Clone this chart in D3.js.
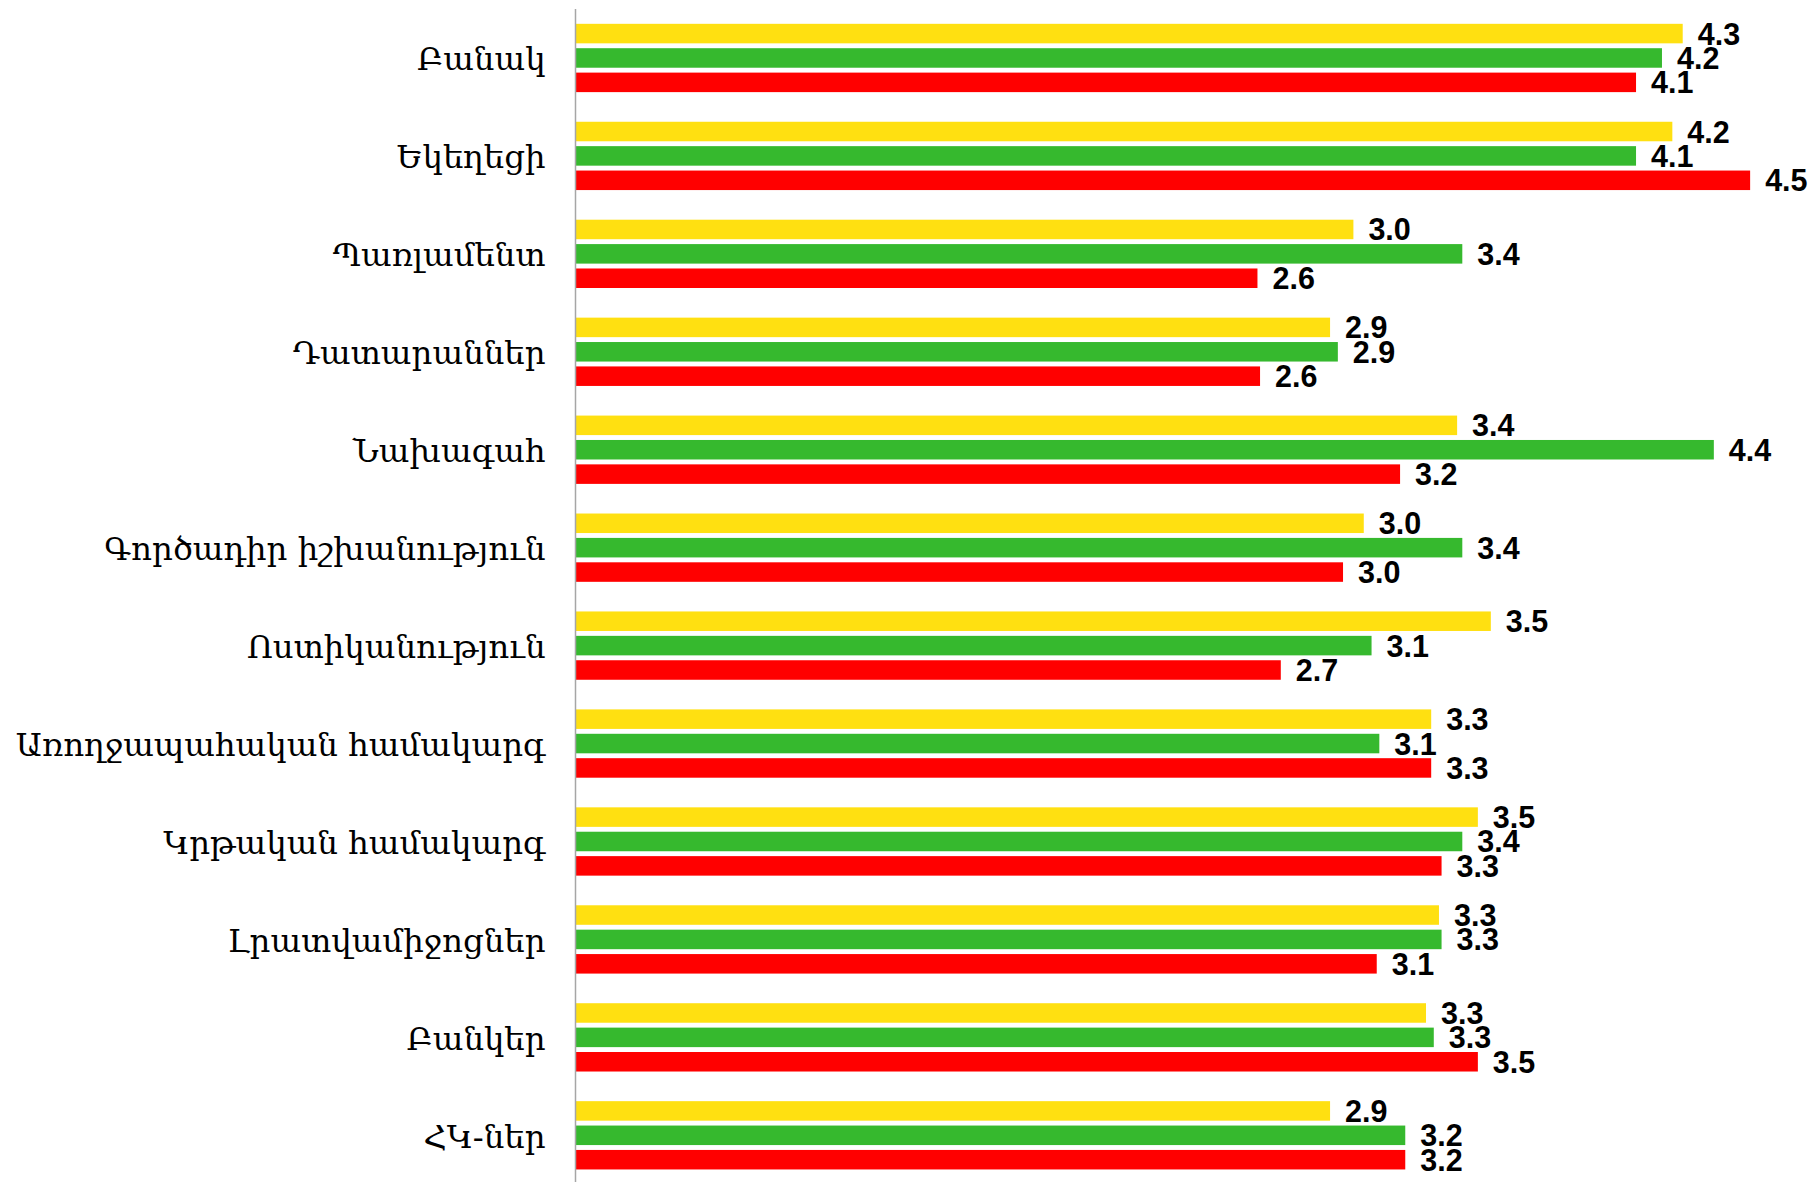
<!DOCTYPE html>
<html>
<head>
<meta charset="utf-8">
<script src="https://cdn.jsdelivr.net/npm/d3@7"></script>
<style>
  html, body { margin: 0; padding: 0; background: #ffffff; }
  svg { display: block; }
</style>
</head>
<body>
<svg id="chart" width="1814" height="1182"></svg>
<script>
// ---- data ----
const categories = [
  "Բանակ",
  "Եկեղեցի",
  "Պառլամենտ",
  "Դատարաններ",
  "Նախագահ",
  "Գործադիր իշխանություն",
  "Ոստիկանություն",
  "Առողջապահական համակարգ",
  "Կրթական համակարգ",
  "Լրատվամիջոցներ",
  "Բանկեր",
  "ՀԿ-ներ"
];
const seriesNames = ["series1", "series2", "series3"];
const seriesColors = ["#FFE011", "#36B92E", "#FF0000"];
const series1 = [4.27, 4.23, 3.00, 2.91, 3.40, 3.04, 3.53, 3.30, 3.48, 3.33, 3.28, 2.91];
const series2 = [4.19, 4.09, 3.42, 2.94, 4.39, 3.42, 3.07, 3.10, 3.42, 3.34, 3.31, 3.20];
const series3 = [4.09, 4.53, 2.63, 2.64, 3.18, 2.96, 2.72, 3.30, 3.34, 3.09, 3.48, 3.20];
const seriesValues = [series1, series2, series3];

// ---- layout ----
const W = 1814, H = 1182;
const axisX = 575.5;
const plotTop = 9, step = 97.94;
const svg = d3.select("#chart");

const rows = categories.map((c, i) => ({
  category: c,
  values: seriesNames.map((s, j) => ({ key: s, color: seriesColors[j], value: seriesValues[j][i] }))
}));

const x = d3.scaleLinear().domain([0, 4.7]).range([axisX, axisX + 4.7 * 259.3]);
const groupPad = 0.3026;
const y0 = d3.scaleBand().domain(categories)
  .range([plotTop, plotTop + categories.length * step])
  .paddingInner(groupPad).paddingOuter(groupPad / 2);
const y1 = d3.scaleBand().domain(seriesNames)
  .range([0, y0.bandwidth()])
  .paddingInner(0.2).paddingOuter(0);

const groups = svg.append("g").selectAll("g")
  .data(rows).join("g")
  .attr("transform", d => `translate(0,${y0(d.category)})`);

groups.selectAll("rect")
  .data(d => d.values).join("rect")
  .attr("x", x(0))
  .attr("y", d => y1(d.key))
  .attr("width", d => x(d.value) - x(0))
  .attr("height", y1.bandwidth())
  .attr("fill", d => d.color);

const fmt = d3.format(".1f");
groups.selectAll("text.val")
  .data(d => d.values).join("text")
  .attr("class", "val")
  .attr("x", d => x(d.value) + 15)
  .attr("y", d => y1(d.key) + y1.bandwidth() / 2 + 11)
  .attr("font-family", "'Liberation Sans', Arial, sans-serif")
  .attr("font-weight", "bold")
  .attr("font-size", 30.5)
  .attr("fill", "#000")
  .text(d => fmt(d.value));

// category axis
const axis = d3.axisLeft(y0).tickSize(0).tickSizeOuter(0).tickPadding(30);
const gAxis = svg.append("g")
  .attr("transform", `translate(${axisX},0)`)
  .call(axis);
gAxis.select(".domain").attr("stroke", "#A6A6A6").attr("stroke-width", 1.5)
  .attr("d", `M0,${plotTop}V${H}`);
gAxis.selectAll(".tick text")
  .attr("font-family", "'DejaVu Serif', serif")
  .attr("font-size", 33)
  .attr("fill", "#000")
  .attr("dy", "0.38em");

// fit label width to the reference (longest label ~530px wide)
const texts = gAxis.selectAll(".tick text").nodes();
const maxLen = d3.max(texts, t => t.getComputedTextLength());
const fs = 33 * 530 / maxLen;
gAxis.selectAll(".tick text").attr("font-size", fs);
</script>
</body>
</html>
